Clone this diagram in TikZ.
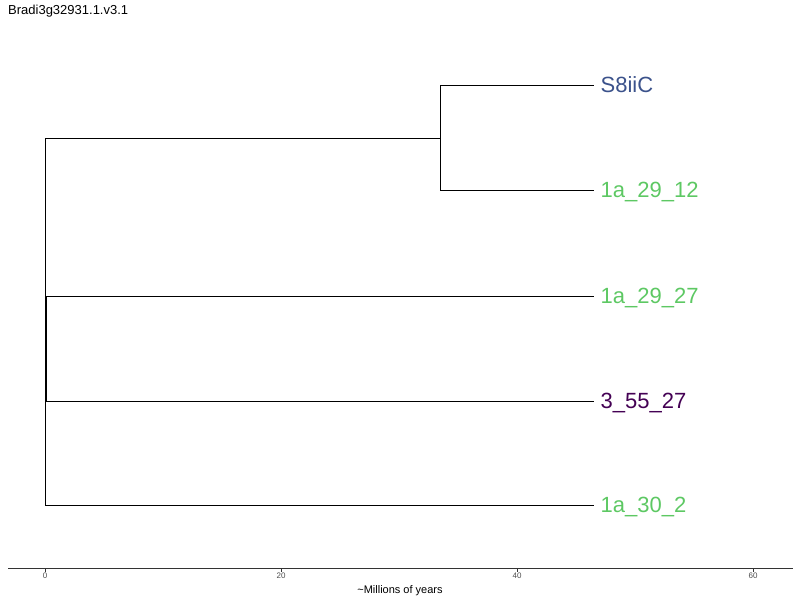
\documentclass[tikz,border=0pt]{standalone}
\usepackage{fontspec}
\setmainfont{Liberation Sans}
\usetikzlibrary{positioning}
\definecolor{tipblue}{HTML}{3B528B}
\definecolor{tipgreen}{HTML}{5DC863}
\definecolor{tippurple}{HTML}{440154}
\definecolor{axisgray}{HTML}{333333}
\definecolor{ticktext}{HTML}{4D4D4D}

\begin{document}
\begin{tikzpicture}[
  x=1pt,y=-1pt,
  branch/.style={draw=black,line width=.8pt},
  tip/.style={anchor=west,inner xsep=6.5pt,inner ysep=0pt,
    text height=16.5pt,text depth=1.3pt,font=\fontsize{22}{22}\selectfont},
  ticklab/.style={anchor=north,inner sep=0pt,text=ticktext,
    font=\fontsize{8}{8}\selectfont}
]
  \useasboundingbox (0,0) rectangle (800,600);

  \node[anchor=base west,inner sep=0pt,font=\fontsize{13}{13}\selectfont]
    (title) at (8,14) {Bradi3g32931.1.v3.1};

  % tips
  \node[tip,text=tipblue] (s8iic) at (594,85) {S8iiC};
  \node[tip,text=tipgreen] (a2912) at (594,190) {1a\_29\_12};
  \node[tip,text=tipgreen] (a2927) at (594,296) {1a\_29\_27};
  \node[tip,text=tippurple] (b5527) at (594,401) {3\_55\_27};
  \node[tip,text=tipgreen] (a302) at (594,505) {1a\_30\_2};

  % inner nodes
  \coordinate (root) at (45,334);
  \coordinate (cladeA) at (440,138);
  \coordinate (cladeB) at (46.3,334);

  \draw[branch] (root |- cladeA) -- (root |- a302);
  \draw[branch] (root |- cladeA) -- (cladeA);
  \draw[branch] (root |- a302) -- (a302.west);
  \draw[branch] (root) -- (cladeB);
  \draw[branch] (cladeA |- s8iic) -- (cladeA |- a2912);
  \draw[branch] (cladeA |- s8iic) -- (s8iic.west);
  \draw[branch] (cladeA |- a2912) -- (a2912.west);
  \draw[branch] (cladeB |- a2927) -- (cladeB |- b5527);
  \draw[branch] (cladeB |- a2927) -- (a2927.west);
  \draw[branch] (cladeB |- b5527) -- (b5527.west);

  % time axis
  \coordinate (axisL) at (8,568);
  \coordinate (axisR) at (793,568);
  \draw[draw=axisgray,line width=.9pt] (axisL) -- (axisR);
  \foreach \t in {0,20,40,60}{
    \draw[draw=axisgray,line width=.7pt] ({45+11.8*\t},568) -- ({45+11.8*\t},571.5);
    \node[ticklab] (tick\t) at ({45+11.8*\t},573) {\t};
  }
  \node[anchor=base,inner sep=0pt,font=\fontsize{11}{11}\selectfont]
    (axistitle) at (400,593) {\textasciitilde Millions of years};
\end{tikzpicture}
\end{document}
